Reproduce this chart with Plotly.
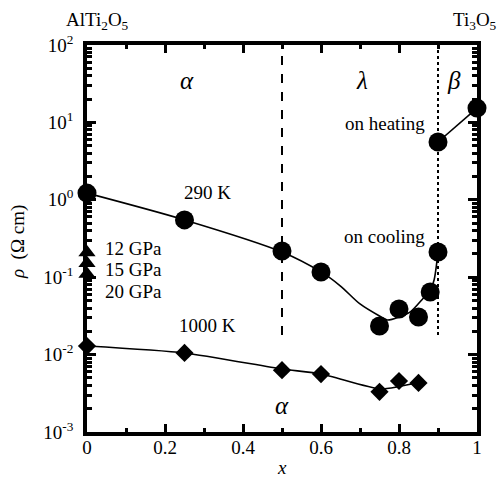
import plotly.graph_objects as go

# ---- data ----
x_290 = [0.0, 0.25, 0.5, 0.6, 0.75, 0.8, 0.85, 0.88, 0.9]
rho_290 = [1.22, 0.55, 0.218, 0.117, 0.0234, 0.0388, 0.0306, 0.0644, 0.212]

x_heat = [0.9, 1.0]
rho_heat = [5.58, 15.3]

x_1000 = [0.0, 0.25, 0.5, 0.6, 0.75, 0.8, 0.85]
rho_1000 = [0.0129, 0.0105, 0.0063, 0.0056, 0.0033, 0.00456, 0.0043]

# guide curves (as drawn)
fit290_x = [0.0, 0.25, 0.5, 0.6, 0.65, 0.7, 0.75, 0.77, 0.8, 0.83, 0.86, 0.88, 0.89, 0.9]
fit290_y = [1.22, 0.55, 0.212, 0.117, 0.0769, 0.0451, 0.0315, 0.028, 0.0306, 0.036, 0.052, 0.068, 0.092, 0.212]

fit1000_x = [0.0, 0.25, 0.5, 0.6, 0.75, 0.8, 0.845]
fit1000_y = [0.0129, 0.0105, 0.00652, 0.00561, 0.0036, 0.00387, 0.0043]

pressure_labels = ["12 GPa", "15 GPa", "20 GPa"]
pressure_rho = [0.208, 0.152, 0.110]

boundary_x = [0.5, 0.9]
boundary_dash = ["dash", "dot"]
boundary_y = [0.0179, 100]

ytick_vals = [1e-3, 1e-2, 1e-1, 1, 10, 100]
ytick_text = ["10<sup>-3</sup>", "10<sup>-2</sup>", "10<sup>-1</sup>",
              "10<sup>0</sup>", "10<sup>1</sup>", "10<sup>2</sup>"]

FONT = "Liberation Serif"
minor_y = [m * 10.0 ** e for e in range(-3, 2) for m in range(2, 10)]

fig = go.Figure()

# phase boundaries
for bx, bd in zip(boundary_x, boundary_dash):
    fig.add_trace(go.Scatter(x=[bx, bx], y=boundary_y, mode="lines",
                             line=dict(color="black", width=2, dash=bd),
                             hoverinfo="skip"))

# guide curves
fig.add_trace(go.Scatter(x=fit290_x, y=fit290_y, mode="lines",
                         line=dict(color="black", width=1.6, shape="spline", smoothing=0.8)))
fig.add_trace(go.Scatter(x=fit1000_x, y=fit1000_y, mode="lines",
                         line=dict(color="black", width=1.6, shape="spline", smoothing=0.6)))
fig.add_trace(go.Scatter(x=x_heat, y=rho_heat, mode="lines+markers",
                         line=dict(color="black", width=1.6),
                         marker=dict(symbol="circle", size=19, color="black"),
                         cliponaxis=False))

# data points
fig.add_trace(go.Scatter(x=x_290, y=rho_290, mode="markers",
                         marker=dict(symbol="circle", size=19, color="black"),
                         cliponaxis=False))
fig.add_trace(go.Scatter(x=x_1000, y=rho_1000, mode="markers",
                         marker=dict(symbol="diamond", size=14, color="black"),
                         cliponaxis=False))
fig.add_trace(go.Scatter(x=[0.0] * len(pressure_rho), y=pressure_rho, mode="markers",
                         marker=dict(symbol="triangle-up", size=15, color="black"),
                         cliponaxis=False))

# invisible trace to carry mirrored (top / right) axes
fig.add_trace(go.Scatter(x=[0.5], y=[1], xaxis="x2", yaxis="y2", mode="markers",
                         marker=dict(opacity=0), hoverinfo="skip"))

common = dict(ticks="inside", tickwidth=2.5, tickcolor="black", showgrid=False,
              zeroline=False, showline=True, linewidth=3.5, linecolor="black",
              layer="below traces")

fig.update_layout(
    width=497, height=479,
    margin=dict(l=87, r=20, t=45, b=47),
    paper_bgcolor="white", plot_bgcolor="white",
    showlegend=False,
    font=dict(family=FONT, size=19, color="black"),
    xaxis=dict(range=[0, 1], tickmode="linear", tick0=0, dtick=0.2, ticklen=8,
               tickfont=dict(family=FONT, size=19), ticklabelstandoff=-5,
               minor=dict(ticks="inside", ticklen=4, tickwidth=2.5, dtick=0.1,
                          tickcolor="black", showgrid=False), **common),
    xaxis2=dict(range=[0, 1], tickmode="linear", tick0=0, dtick=0.2, ticklen=8,
                overlaying="x", side="top", showticklabels=False,
                minor=dict(ticks="inside", ticklen=4, tickwidth=2.5, dtick=0.1,
                           tickcolor="black", showgrid=False), **common),
    yaxis=dict(type="log", range=[-3, 2], tickmode="array",
               tickvals=ytick_vals, ticktext=ytick_text, ticklen=9,
               tickfont=dict(family=FONT, size=19), ticklabelstandoff=6,
               minor=dict(ticks="inside", ticklen=5, tickwidth=2.5, tickmode="array",
                          tickvals=minor_y, tickcolor="black", showgrid=False), **common),
    yaxis2=dict(type="log", range=[-3, 2], tickmode="array",
                tickvals=ytick_vals, ticklen=9, overlaying="y", side="right",
                showticklabels=False,
                minor=dict(ticks="inside", ticklen=5, tickwidth=2.5, tickmode="array",
                           tickvals=minor_y, tickcolor="black", showgrid=False), **common),
)


def ann(x, y, text, size=19, xanchor="center"):
    fig.add_annotation(x=x, y=y, text=text, showarrow=False, xanchor=xanchor,
                       yanchor="middle", font=dict(family=FONT, size=size, color="black"))


def pann(px, py, text, angle=0):
    # label placed outside the plot area, position given in pixels
    fig.add_annotation(x=(px - 87) / 390, y=(432 - py) / 387, xref="paper", yref="paper",
                       xanchor="center", yanchor="middle", textangle=angle,
                       text=text, showarrow=False,
                       font=dict(family=FONT, size=19, color="black"))


# in-plot labels (y in log10 units)
ann(0.256, 1.535, "<i>α</i>", size=25)
ann(0.705, 1.535, "<i>λ</i>", size=25)
ann(0.942, 1.535, "<i>β</i>", size=25)
ann(0.5, -2.664, "<i>α</i>", size=25)
ann(0.764, 0.99, "on heating")
ann(0.764, -0.47, "on cooling")
ann(0.308, 0.10, "290 K")
ann(0.31, -1.63, "1000 K")
for lbl, yy in zip(pressure_labels, [-0.63, -0.90, -1.18]):
    ann(0.041, yy, lbl, xanchor="left")

# outside labels
pann(97, 21, "AlTi<sub>2</sub>O<sub>5</sub>")
pann(475, 21, "Ti<sub>3</sub>O<sub>5</sub>")
pann(18, 242, "<i>ρ</i>  (Ω cm)", angle=-90)
pann(282, 467, "<i>x</i>")

fig.write_html("out.html")
